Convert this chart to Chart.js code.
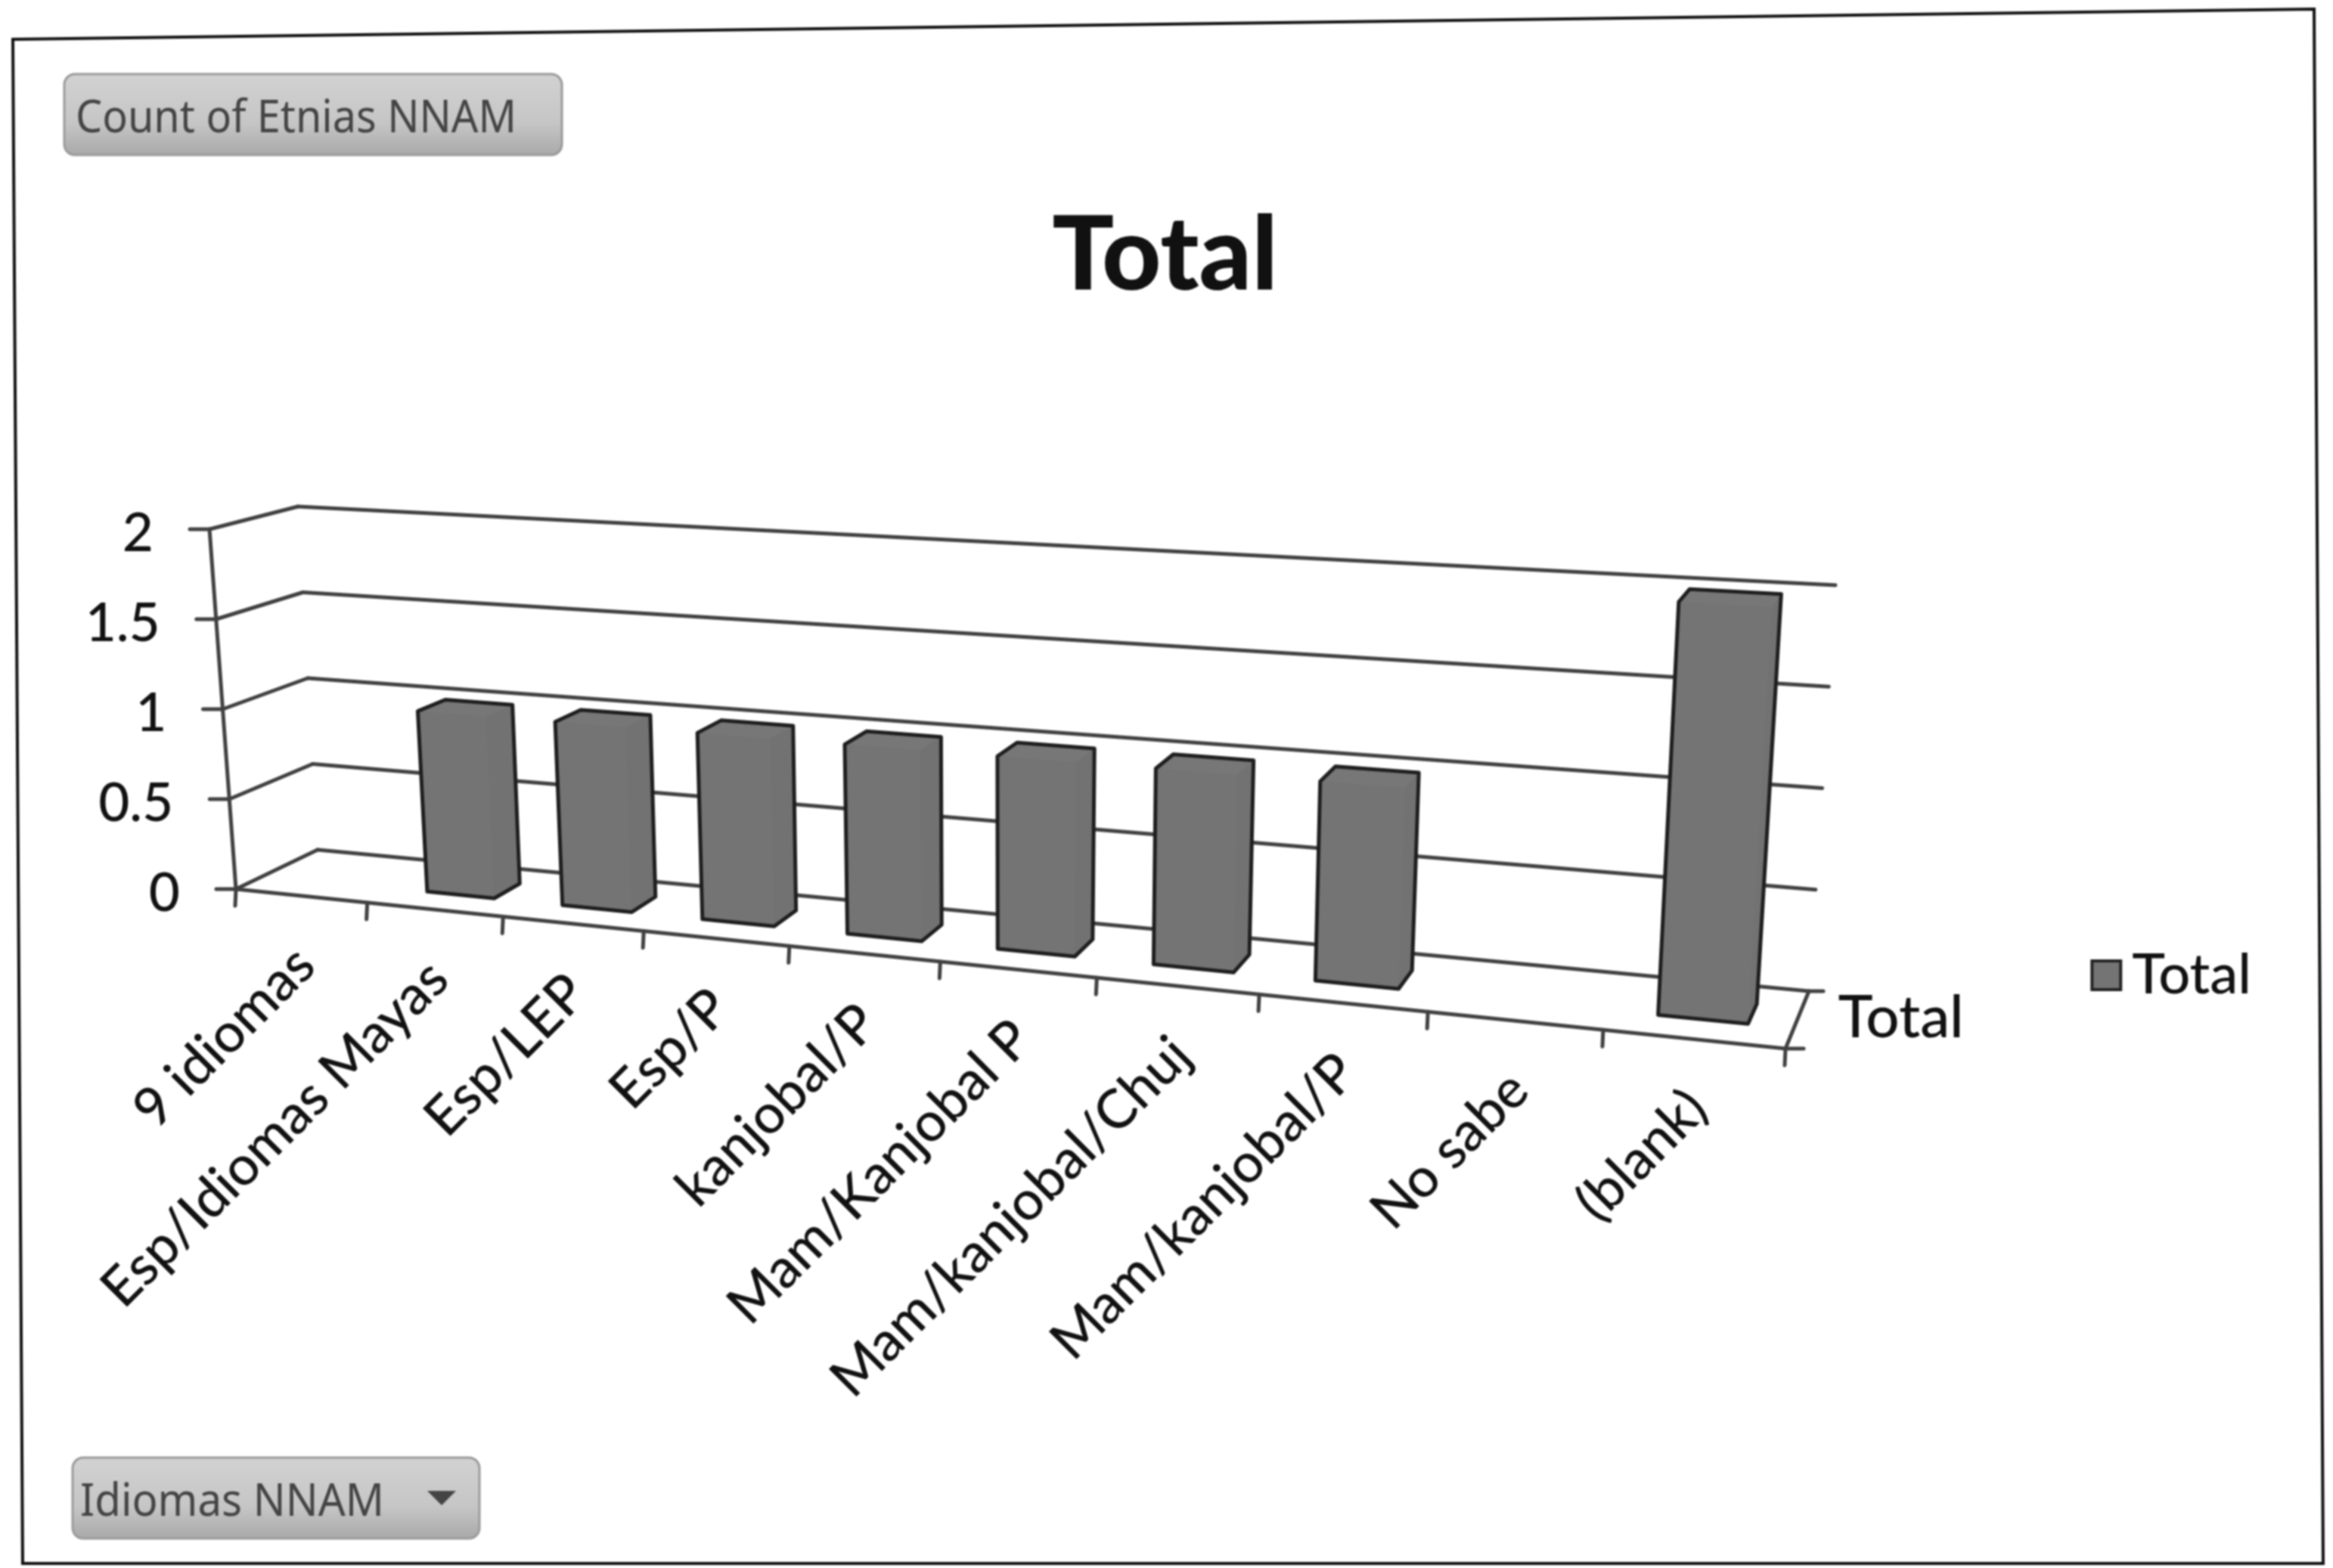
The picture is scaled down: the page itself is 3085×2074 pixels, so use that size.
<!DOCTYPE html>
<html>
<head>
<meta charset="utf-8">
<title>Total</title>
<script src="https://cdn.jsdelivr.net/npm/chart.js@4/dist/chart.umd.js"></script>
<style>
  html, body { margin: 0; padding: 0; background: #fff; }
  canvas { display: block; filter: blur(1.3px); }
</style>
</head>
<body>
<canvas id="myBarChart" width="3085" height="2074"></canvas>
<script>
const categories = ['9 idiomas', 'Esp/Idiomas Mayas', 'Esp/LEP', 'Esp/P', 'kanjobal/P', 'Mam/Kanjobal P', 'Mam/kanjobal/Chuj', 'Mam/kanjobal/P', 'No sabe', '(blank)'];
const totals = [null, 1, 1, 1, 1, 1, 1, 1, null, 2];
const seriesName = 'Total';
const measureButton = 'Count of Etnias NNAM';
const axisButton = 'Idiomas NNAM';

const fontName = 'Lato, Carlito, sans-serif';
const lineColor = '#404040';
const barColor = '#747474';

// corners of the 3D box on the page, the scales are warped onto these
const backLeft = { low: [420, 1124], high: [394, 670] };
const backRight = { low: [2392, 1311], high: [2427, 774] };
const frontLeft = { low: [312, 1176], high: [277, 700] };
const frontRight = { low: [2361, 1387], high: [2393, 824] };
const perspective = 1.2;
const barDepthBack = 0.3;
const barDepthFront = 0.65;

function mix(a, b, t) {
    return [a[0] + (b[0] - a[0]) * t, a[1] + (b[1] - a[1]) * t];
}

// chart pixel + depth (0 back wall, 1 front edge) -> page position
function warp(chart, px, py, depth) {
    const area = chart.chartArea;
    const u = (px - area.left) / (area.right - area.left);
    const v = (area.bottom - py) / (area.bottom - area.top);
    const s = u / (u + perspective * (1 - u));
    const back = mix(mix(backLeft.low, backRight.low, s), mix(backLeft.high, backRight.high, s), v);
    const front = mix(mix(frontLeft.low, frontRight.low, s), mix(frontLeft.high, frontRight.high, s), v);
    return mix(back, front, depth);
}

function line(ctx, a, b) {
    ctx.beginPath();
    ctx.moveTo(a[0], a[1]);
    ctx.lineTo(b[0], b[1]);
    ctx.stroke();
}

function poly(ctx, points) {
    ctx.beginPath();
    points.forEach((p, i) => i ? ctx.lineTo(p[0], p[1]) : ctx.moveTo(p[0], p[1]));
    ctx.closePath();
}

function drawButton(ctx, x, y, w, h, label, textX, textWidth) {
    const fill = ctx.createLinearGradient(0, y, 0, y + h);
    fill.addColorStop(0, '#d2d2d2');
    fill.addColorStop(0.6, '#c6c6c6');
    fill.addColorStop(1, '#a9a9a9');
    ctx.beginPath();
    ctx.roundRect(x, y, w, h, 14);
    ctx.fillStyle = fill;
    ctx.fill();
    ctx.strokeStyle = '#9a9a9a';
    ctx.lineWidth = 3;
    ctx.stroke();
    ctx.fillStyle = '#444444';
    ctx.font = '60px "Noto Sans"';
    ctx.textAlign = 'left';
    ctx.textBaseline = 'middle';
    ctx.fillText(label, textX, y + h / 2 + 6, textWidth);
}

const box3d = {
    id: 'box3d',
    beforeDraw(chart) {
        const ctx = chart.ctx;
        ctx.save();
        ctx.fillStyle = '#fff';
        ctx.fillRect(0, 0, chart.width, chart.height);
        poly(ctx, [[17, 52], [3060, 12], [3072, 2068], [30, 2068]]);
        ctx.strokeStyle = '#111';
        ctx.lineWidth = 4;
        ctx.stroke();
        drawButton(ctx, 85, 98, 658, 107, measureButton, 100, 583);
        drawButton(ctx, 96, 1928, 538, 107, axisButton, 106, 402);
        poly(ctx, [[565, 1972], [603, 1972], [584, 1991]]);
        ctx.fillStyle = '#444';
        ctx.fill();
        ctx.restore();
    },
    beforeDatasetsDraw(chart) {
        const ctx = chart.ctx;
        const area = chart.chartArea;
        const xScale = chart.scales.x;
        const yScale = chart.scales.y;
        ctx.save();
        ctx.strokeStyle = lineColor;
        ctx.lineWidth = 5;
        ctx.lineCap = 'round';

        // walls + value ticks
        ctx.font = '500 71px ' + fontName;
        ctx.fillStyle = '#111';
        ctx.textAlign = 'right';
        ctx.textBaseline = 'middle';
        yScale.ticks.forEach((tick) => {
            const py = yScale.getPixelForValue(tick.value);
            const front = warp(chart, area.left, py, 1);
            const back = warp(chart, area.left, py, 0);
            const end = warp(chart, area.right, py, 0);
            line(ctx, [front[0] - 26, front[1]], front);
            line(ctx, front, back);
            line(ctx, back, end);
            ctx.fillText(String(tick.value), front[0] - 74, front[1] + 6);
        });
        line(ctx, warp(chart, area.left, area.top, 1), warp(chart, area.left, area.bottom, 1));

        // floor
        const frontStart = warp(chart, area.left, area.bottom, 1);
        const frontEnd = warp(chart, area.right, area.bottom, 1);
        const backEnd = warp(chart, area.right, area.bottom, 0);
        line(ctx, frontStart, frontEnd);
        line(ctx, backEnd, frontEnd);
        line(ctx, backEnd, [backEnd[0] + 19, backEnd[1]]);
        line(ctx, frontEnd, [frontEnd[0] + 24, frontEnd[1]]);

        // category ticks on the front edge
        for (let i = 0; i <= categories.length; i++) {
            const px = area.left + (area.right - area.left) * i / categories.length;
            const p = warp(chart, px, area.bottom, 1);
            line(ctx, p, [p[0] - 1, p[1] + 22]);
        }

        // category labels
        ctx.font = '500 72px ' + fontName;
        ctx.fillStyle = '#111';
        ctx.textAlign = 'right';
        categories.forEach((label, i) => {
            const p = warp(chart, xScale.getPixelForTick(i), area.bottom, 1);
            ctx.save();
            ctx.translate(p[0] + 6, p[1] + 80);
            ctx.rotate(-45 * Math.PI / 180);
            ctx.fillText(xScale.getLabelForValue(i), 0, 0);
            ctx.restore();
        });

        // name of the depth axis
        const mid = warp(chart, area.right, area.bottom, 0.5);
        ctx.font = '500 78px ' + fontName;
        ctx.textAlign = 'left';
        ctx.fillText(chart.data.datasets[0].label, mid[0] + 54, mid[1] - 2);

        // bars, from the library's own elements
        chart.getDatasetMeta(0).data.forEach((bar, i) => {
            if (totals[i] === null) return;
            const left = bar.x - bar.width / 2;
            const right = bar.x + bar.width / 2;
            const fbl = warp(chart, left, bar.base, barDepthFront);
            const fbr = warp(chart, right, bar.base, barDepthFront);
            const bbr = warp(chart, right, bar.base, barDepthBack);
            const btr = warp(chart, right, bar.y, barDepthBack);
            const btl = warp(chart, left, bar.y, barDepthBack);
            const ftl = warp(chart, left, bar.y, barDepthFront);
            const ftr = warp(chart, right, bar.y, barDepthFront);
            poly(ctx, [fbl, fbr, bbr, btr, btl, ftl]);
            ctx.fillStyle = barColor;
            ctx.fill();
            poly(ctx, [fbr, bbr, btr, ftr]);
            ctx.fillStyle = '#727272';
            ctx.fill();
            poly(ctx, [ftl, ftr, btr, btl]);
            ctx.fillStyle = '#777777';
            ctx.fill();
            poly(ctx, [fbl, fbr, bbr, btr, btl, ftl]);
            ctx.strokeStyle = '#1e1e1e';
            ctx.lineWidth = 5;
            ctx.lineJoin = 'round';
            ctx.stroke();
        });
        ctx.restore();
        return false;
    },
    afterDraw(chart) {
        // legend swatch sits closer to its text than the library's fixed gap
        const hit = chart.legend.legendHitBoxes[0];
        const ctx = chart.ctx;
        ctx.save();
        ctx.fillStyle = barColor;
        ctx.strokeStyle = '#222222';
        ctx.lineWidth = 4;
        ctx.fillRect(hit.left + 22, hit.top + hit.height / 2 - 19, 38, 38);
        ctx.strokeRect(hit.left + 22, hit.top + hit.height / 2 - 19, 38, 38);
        ctx.restore();
    }
};

new Chart(document.getElementById('myBarChart').getContext('2d'), {
    type: 'bar',
    data: {
        labels: categories,
        datasets: [{
            label: seriesName,
            data: totals,
            backgroundColor: barColor,
            borderColor: '#222222',
            borderWidth: 4,
            barPercentage: 0.5,
            categoryPercentage: 1
        }]
    },
    plugins: [box3d],
    options: {
        responsive: false,
        animation: false,
        layout: { padding: { left: 94, right: 98, top: 0, bottom: 747 } },
        scales: {
            x: { ticks: { display: false }, grid: { display: false }, border: { display: false } },
            y: {
                min: 0,
                max: 2,
                ticks: { display: false, stepSize: 0.5 },
                grid: { display: false },
                border: { display: false }
            }
        },
        plugins: {
            title: {
                display: true,
                text: seriesName,
                color: '#111',
                font: { family: fontName, size: 136, weight: '900' },
                padding: { top: 258, bottom: 20 }
            },
            legend: {
                position: 'right',
                align: 'end',
                labels: {
                    color: '#111',
                    font: { family: fontName, size: 74, weight: '500' },
                    boxWidth: 38,
                    boxHeight: 38,
                    padding: 0,
                    generateLabels(chart) {
                        return [{ text: chart.data.datasets[0].label, fillStyle: 'rgba(0,0,0,0)', strokeStyle: 'rgba(0,0,0,0)', lineWidth: 0, datasetIndex: 0, fontColor: '#111' }];
                    }
                }
            },
            tooltip: { enabled: false }
        }
    }
});
</script>
</body>
</html>
